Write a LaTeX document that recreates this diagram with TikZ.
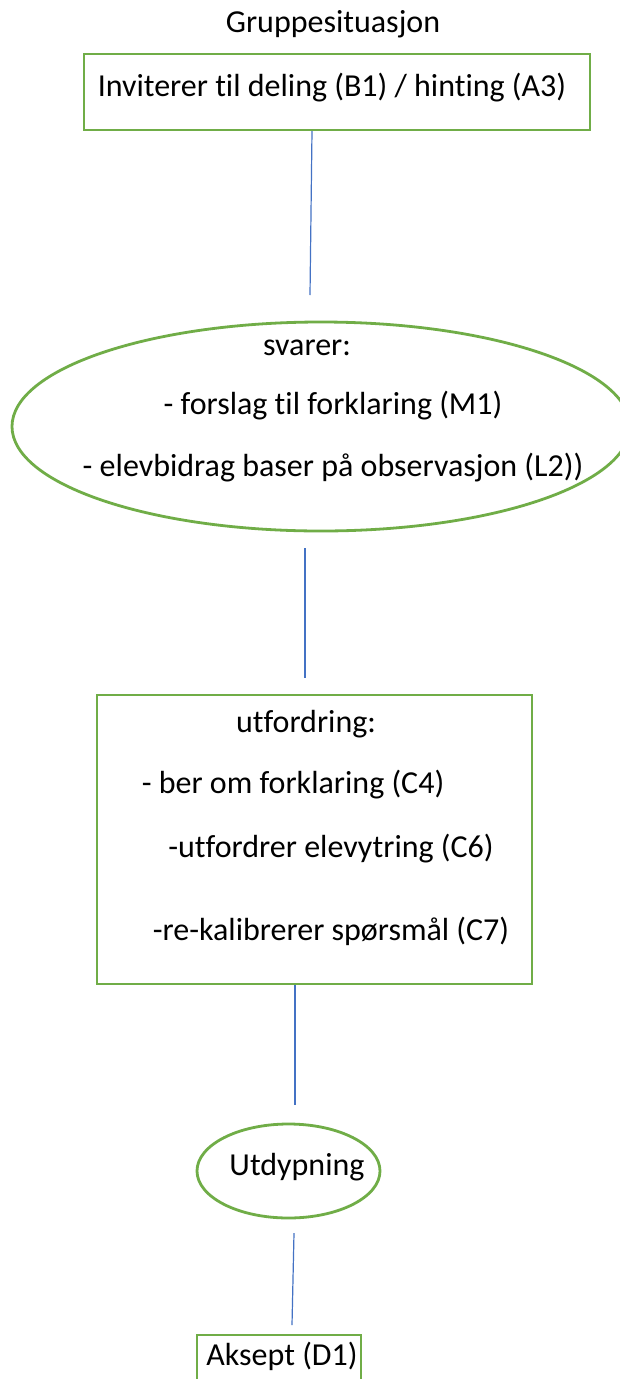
\documentclass[tikz,border=0pt]{standalone}
\usepackage{fontspec}
\setmainfont{Carlito}[RawFeature={-liga}]
\usetikzlibrary{shapes.geometric}
\definecolor{ogreen}{HTML}{70AD47}
\definecolor{oblue}{HTML}{4472C4}
\begin{document}
\begin{tikzpicture}[x=1pt,y=-1pt,
  every node/.style={font=\fontsize{32}{38}\selectfont, inner sep=0pt, outer sep=0pt},
  txt/.style={text height=21pt, text depth=7pt},
  gbox/.style={draw=ogreen, line width=2.8pt, rectangle},
  gell/.style={draw=ogreen, line width=2.8pt, ellipse},
  conn/.style={draw=oblue, line width=1.2pt}]
\useasboundingbox (0,0) rectangle (620,1379);
\fill[white] (0,0) rectangle (620,1379);
% shapes
\node[gbox, minimum width=506pt, minimum height=76pt] (box1) at (337,92) {};
\node[gell, minimum width=618pt, minimum height=209pt] (ell1) at (321,426.5) {};
\node[gbox, minimum width=435pt, minimum height=289pt] (box3) at (314.5,839.5) {};
\node[gell, minimum width=183pt, minimum height=94pt] (ell2) at (288.5,1171) {};
\node[gbox, minimum width=164pt, minimum height=70pt] (box4) at (279,1370) {};
% texts
\node[txt] (title) at (333,25) {Gruppesituasjon};
\node[txt] (t1) at (332,89) {Inviterer til deling (B1) / hinting (A3)};
\node[txt] (e1a) at (307,348) {svarer:};
\node[txt] (e1b) at (333,407) {- forslag til forklaring (M1)};
\node[txt] (e1c) at (333,469) {- elevbidrag baser på observasjon (L2))};
\node[txt] (b3a) at (306,725) {utfordring:};
\node[txt] (b3b) at (293,786) {- ber om forklaring (C4)};
\node[txt] (b3c) at (331,850) {-utfordrer elevytring (C6)};
\node[txt] (b3d) at (331,933) {-re-kalibrerer spørsmål (C7)};
\node[txt] (e2t) at (297,1168) {Utdypning};
\node[txt] (b4t) at (282,1358) {Aksept (D1)};
% connectors
\coordinate (c1a) at (312,131);
\coordinate (c1b) at (310,295);
\coordinate (c2a) at (305,548);
\coordinate (c2b) at (305,678);
\coordinate (c3a) at (295,985);
\coordinate (c3b) at (295,1105);
\coordinate (c4a) at (294,1233);
\coordinate (c4b) at (292,1325);
\draw[conn] (c1a) -- (c1b);
\draw[conn] (c2a) -- (c2b);
\draw[conn] (c3a) -- (c3b);
\draw[conn] (c4a) -- (c4b);
\end{tikzpicture}
\end{document}
